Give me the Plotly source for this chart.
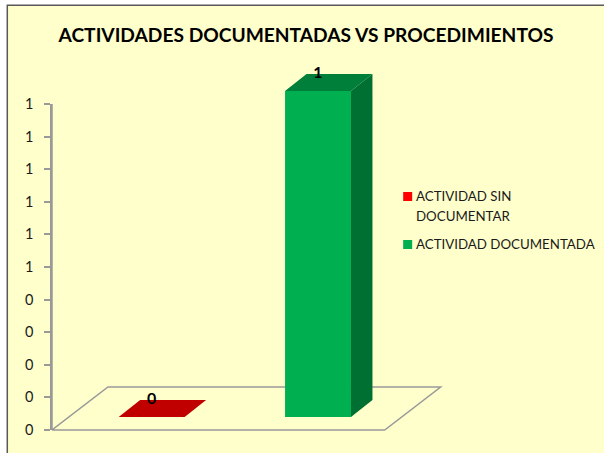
import plotly.graph_objects as go

W, H = 604, 453
# data
categories = ["ACTIVIDAD SIN<br>DOCUMENTAR", "ACTIVIDAD DOCUMENTADA"]
values = [0, 1]
value_labels = ["0", "1"]
tick_values = [0, .1, .2, .3, .4, .5, .6, .7, .8, .9, 1]
tick_labels = ["0", "0", "0", "0", "0", "1", "1", "1", "1", "1", "1"]
title_text = "ACTIVIDADES DOCUMENTADAS VS PROCEDIMIENTOS"
front_colors = ["#FF0000", "#00B050"]
top_colors = ["#C00000", "#007F3A"]
side_colors = ["#A00000", "#006F32"]

# plot frame in pixels (the value 0 sits at Y0; the frame runs a little lower)
L, R, B, T = 51.5, W, 440, 60
Y0 = 430
PX_X = 166.5          # px per category
PX_Y = 326            # px per unit of value
x0 = -0.5
x1 = x0 + (R - L) / PX_X
y0_range = -(B - Y0) / PX_Y
y1 = (Y0 - T) / PX_Y

def fx(px):
    return (px - L) / (R - L)

def fy(py):
    return (B - py) / (B - T)

# depth geometry, data units
bar_w = 66 / PX_X
floor_dx, floor_dy = 56 / PX_X, 43 / PX_Y
bar_shift_x, bar_shift_y = 16.5 / PX_X, 13 / PX_Y
bar_dx, bar_dy = 21.5 / PX_X, 17 / PX_Y
floor_right = x0 + 2
grey = "#999999"

fig = go.Figure()
# trace that carries the visible value axis (yaxis2, spanning exactly 0..1)
fig.add_trace(go.Scatter(x=[x0] * len(tick_values), y=tick_values, yaxis="y2", mode="lines",
                         cliponaxis=False, line=dict(color=grey, width=1.5),
                         showlegend=False, hoverinfo="skip"))
floor_path = (f"M {x0} 0 L {floor_right} 0 L {floor_right + floor_dx} {floor_dy} "
              f"L {x0 + floor_dx} {floor_dy} Z")
shapes = [
    dict(type="rect", xref="paper", yref="paper", layer="below",
         x0=fx(6), x1=fx(W + 10), y0=fy(H + 10), y1=fy(4.5),
         fillcolor="#595959", line=dict(width=0)),
    dict(type="rect", xref="paper", yref="paper", layer="below",
         x0=fx(7.5), x1=fx(W + 10), y0=fy(H + 10), y1=fy(6),
         fillcolor="#FFFFCC", line=dict(width=0)),
    dict(type="path", xref="x", yref="y", layer="below", path=floor_path,
         line=dict(color=grey, width=1.5)),
]
annotations = []
swatch_tops = [192, 240]
for i, (cat, v) in enumerate(zip(categories, values)):
    c = i + bar_shift_x
    left, right = c - bar_w / 2, c + bar_w / 2
    base, top = bar_shift_y, bar_shift_y + v
    fig.add_trace(go.Bar(x=[c], y=[v], base=[base], width=[bar_w], name=cat.replace("<br>", " "),
                         showlegend=False,
                         marker=dict(color=front_colors[i], line=dict(width=0))))
    if v > 0:
        fig.add_trace(go.Scatter(
            x=[right, right + bar_dx, right + bar_dx, right, right],
            y=[base, base + bar_dy, top + bar_dy, top, base],
            fill="toself", fillcolor=side_colors[i], mode="none",
            showlegend=False, hoverinfo="skip"))
    fig.add_trace(go.Scatter(
        x=[left, right, right + bar_dx, left + bar_dx, left],
        y=[top, top, top + bar_dy, top + bar_dy, top],
        fill="toself", fillcolor=top_colors[i], mode="none",
        showlegend=False, hoverinfo="skip"))
    fig.add_trace(go.Scatter(
        x=[c], y=[top + bar_dy], mode="text", text=[f"<b>{value_labels[i]}</b>"],
        textposition="middle center", cliponaxis=False,
        textfont=dict(family="Lato", size=16, color="#000000"),
        showlegend=False, hoverinfo="skip"))
    # legend key and text
    st = swatch_tops[i]
    shapes.append(dict(type="rect", xref="paper", yref="paper", x0=fx(403), x1=fx(412),
                       y0=fy(st + 9), y1=fy(st), fillcolor=front_colors[i], line=dict(width=0)))
    for j, line in enumerate(cat.split("<br>")):
        annotations.append(dict(xref="paper", yref="paper", x=fx(416), y=fy(st + 4 + 20 * j),
                                xanchor="left", yanchor="middle", showarrow=False, text=line,
                                xshift=-2,
                                font=dict(family="Lato", size=13.3, color="#1A1A1A")))

fig.update_layout(
    width=W, height=H, autosize=False, barmode="overlay", showlegend=False,
    margin=dict(l=L, r=W - R, t=T, b=H - B),
    paper_bgcolor="#FFFFFF", plot_bgcolor="rgba(0,0,0,0)",
    font=dict(family="Lato", color="#1A1A1A"),
    title=dict(text=f"<b>{title_text}</b>", x=306 / W, xanchor="center",
               y=1 - 35 / H, yanchor="middle",
               font=dict(family="Lato", size=19.2, color="#000000")),
    xaxis=dict(range=[x0, x1], visible=False),
    yaxis=dict(range=[y0_range, y1], visible=False),
    yaxis2=dict(domain=[fy(Y0), fy(Y0 - PX_Y)], range=[0, 1], anchor="x",
                tickmode="array", tickvals=tick_values, ticktext=tick_labels,
                showgrid=False, zeroline=False, showline=True, linecolor=grey, linewidth=1.5,
                ticks="outside", ticklen=6, tickcolor=grey, tickwidth=1.5, ticklabelstandoff=8,
                tickfont=dict(family="Lato", size=14.5, color="#1A1A1A")),
    shapes=shapes,
    annotations=annotations,
)
fig.write_html("out.html", config={"displayModeBar": False},
               post_script="document.body.style.margin='0';document.body.style.overflow='hidden';")
